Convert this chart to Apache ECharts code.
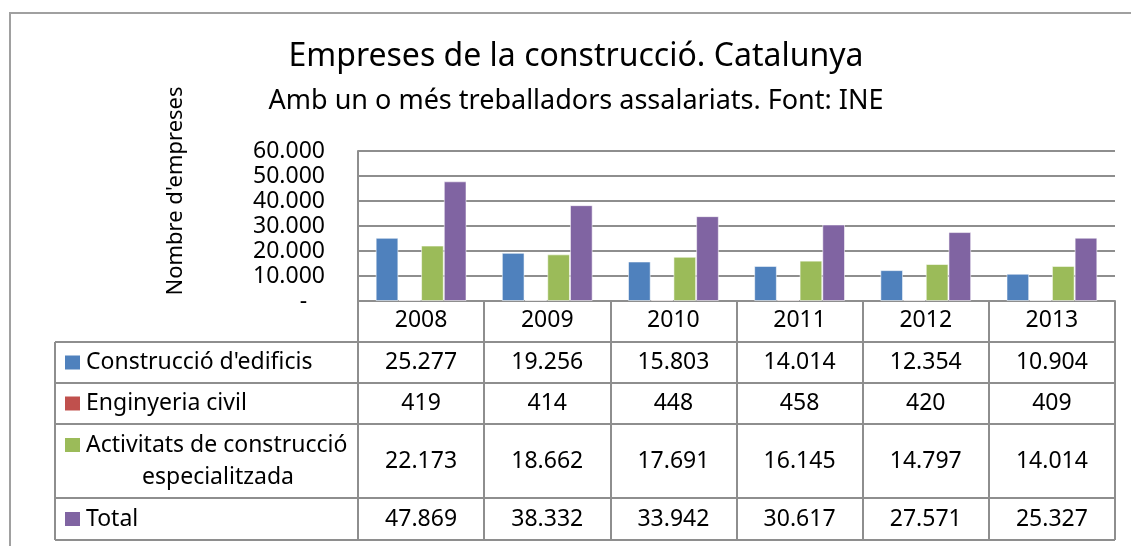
<!DOCTYPE html>
<html>
<head>
<meta charset="utf-8">
<title>Empreses de la construcció. Catalunya</title>
<script src="https://cdn.jsdelivr.net/npm/echarts@6/dist/echarts.min.js"></script>
<style>
  html, body { margin: 0; padding: 0; background: #fff; }
  #chart { width: 1131px; height: 546px; }
</style>
</head>
<body>
<div id="chart"></div>
<script>
const years = ['2008', '2009', '2010', '2011', '2012', '2013']

const construccioEdificis = [25277, 19256, 15803, 14014, 12354, 10904]
const enginyeriaCivil = [419, 414, 448, 458, 420, 409]
const activitatsEspecialitzades = [22173, 18662, 17691, 16145, 14797, 14014]
const total = [47869, 38332, 33942, 30617, 27571, 25327]

const seriesNames = ["Construcció d'edificis", 'Enginyeria civil', 'Activitats de construcció especialitzada', 'Total']
const seriesValues = [construccioEdificis, enginyeriaCivil, activitatsEspecialitzades, total]

const TITLE = 'Empreses de la construcció. Catalunya'
const SUBTITLE = 'Amb un o més treballadors assalariats. Font: INE'
const Y_NAME = "Nombre d'empreses"

const COLORS = ['#4F81BD', '#C0504D', '#9BBB59', '#8064A2']
const LINE = '#8e8e8e'
const FONT = 'Noto Sans'

// plot box and table rows (pixels)
const GRID_TOP = 151
const GRID_BOTTOM = 301
const TABLE_LEFT = 55
const ROW_EDGES = [342, 383, 424, 498, 540]

const fmt = (v) => v >= 1000 ? Math.floor(v / 1000) + '.' + String(v % 1000).padStart(3, '0') : String(v)

const chart = echarts.init(document.getElementById('chart'))

const option = {
  animation: false,
  textStyle: { fontFamily: FONT },
  grid: { left: 358, right: 16, top: GRID_TOP, bottom: 546 - GRID_BOTTOM, containLabel: false },
  xAxis: {
    type: 'category',
    data: years,
    axisLine: { show: true, lineStyle: { color: LINE, width: 2 } },
    axisTick: { show: true, alignWithLabel: false, length: ROW_EDGES[ROW_EDGES.length - 1] - GRID_BOTTOM, lineStyle: { color: LINE, width: 2 } },
    axisLabel: { color: '#000', fontSize: 23, fontFamily: FONT, margin: 8 }
  },
  yAxis: {
    type: 'value',
    min: 0,
    max: 60000,
    interval: 10000,
    axisLine: { show: true, lineStyle: { color: LINE, width: 2 } },
    axisTick: { show: false },
    splitLine: { lineStyle: { color: LINE, width: 2 } },
    axisLabel: {
      color: '#000',
      fontSize: 23,
      fontFamily: FONT,
      margin: 33,
      formatter: (v) => v === 0 ? '-   ' : fmt(v)
    }
  },
  series: seriesValues.map((values, i) => ({
    type: 'bar',
    name: seriesNames[i],
    data: values,
    barGap: '0%',
    barCategoryGap: '28%',
    itemStyle: { color: COLORS[i], borderColor: 'rgba(255,255,255,0.55)', borderWidth: 1 }
  }))
}

chart.setOption(option)

// titles, frame, data table
const graphic = []

graphic.push({
  type: 'rect',
  shape: { x: 10, y: 13, width: 1200, height: 600 },
  style: { fill: null, stroke: '#a0a0a0', lineWidth: 2 },
  silent: true
})

graphic.push({
  type: 'text', x: 576, y: 57,
  style: { text: TITLE, font: '32px "' + FONT + '"', fill: '#000', textAlign: 'center', textVerticalAlign: 'middle' }
})
graphic.push({
  type: 'text', x: 576, y: 101,
  style: { text: SUBTITLE, font: '27px "' + FONT + '"', fill: '#000', textAlign: 'center', textVerticalAlign: 'middle' }
})
graphic.push({
  type: 'text', x: 176, y: 191, rotation: Math.PI / 2,
  style: { text: Y_NAME, font: '22px "' + FONT + '"', fill: '#000', textAlign: 'center', textVerticalAlign: 'middle' }
})

const rightEdge = chart.convertToPixel({ xAxisIndex: 0 }, years.length - 1) +
  (chart.convertToPixel({ xAxisIndex: 0 }, 1) - chart.convertToPixel({ xAxisIndex: 0 }, 0)) / 2

ROW_EDGES.forEach((y) => {
  graphic.push({
    type: 'line',
    shape: { x1: TABLE_LEFT, y1: y, x2: rightEdge, y2: y },
    style: { stroke: LINE, lineWidth: 2 }
  })
})
graphic.push({
  type: 'line',
  shape: { x1: TABLE_LEFT, y1: ROW_EDGES[0], x2: TABLE_LEFT, y2: ROW_EDGES[ROW_EDGES.length - 1] },
  style: { stroke: LINE, lineWidth: 2 }
})

const cellFont = '23px "' + FONT + '"'

seriesValues.forEach((values, r) => {
  const top = ROW_EDGES[r]
  const bottom = ROW_EDGES[r + 1]
  const mid = (top + bottom) / 2
  const twoLines = r === 2
  const keyY = twoLines ? top + 21 : mid

  graphic.push({
    type: 'rect',
    shape: { x: 65, y: keyY - 7, width: 15, height: 14 },
    style: { fill: COLORS[r] }
  })

  if (twoLines) {
    graphic.push({
      type: 'text', x: 86, y: top + 21,
      style: { text: 'Activitats de construcció', font: cellFont, fill: '#000', textAlign: 'left', textVerticalAlign: 'middle' }
    })
    graphic.push({
      type: 'text', x: 218, y: top + 53,
      style: { text: 'especialitzada', font: cellFont, fill: '#000', textAlign: 'center', textVerticalAlign: 'middle' }
    })
  } else {
    graphic.push({
      type: 'text', x: 86, y: mid,
      style: { text: seriesNames[r], font: cellFont, fill: '#000', textAlign: 'left', textVerticalAlign: 'middle' }
    })
  }

  values.forEach((v, i) => {
    graphic.push({
      type: 'text',
      x: chart.convertToPixel({ xAxisIndex: 0 }, i),
      y: mid,
      style: { text: fmt(v), font: cellFont, fill: '#000', textAlign: 'center', textVerticalAlign: 'middle' }
    })
  })
})

chart.setOption({ graphic: graphic })

window.addEventListener('resize', () => chart.resize())
</script>
</body>
</html>
